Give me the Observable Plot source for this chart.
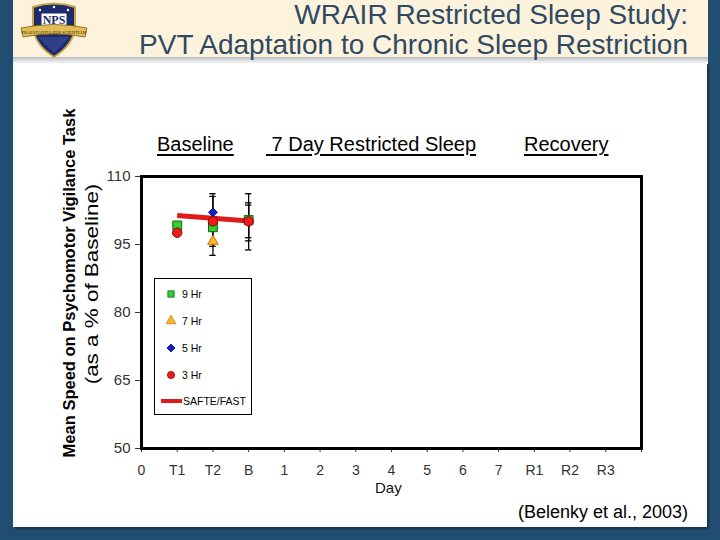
<!DOCTYPE html>
<html>
<head>
<meta charset="utf-8">
<script src="https://cdn.jsdelivr.net/npm/d3@7"></script>
<script src="https://cdn.jsdelivr.net/npm/@observablehq/plot@0.6"></script>
<style>
  html, body { margin: 0; padding: 0; }
  body { width: 720px; height: 540px; background: #224d73; position: relative; overflow: hidden; font-family: "Liberation Sans", Arial, sans-serif; }
  .abs { position: absolute; }
  #header { left: 13px; top: 0; width: 695px; height: 57px; background: #fdf3dd; }
  #shadow { left: 13px; top: 57px; width: 695px; height: 7px; background: linear-gradient(#b9bcbf, #ffffff); }
  #content { left: 13px; top: 64px; width: 694px; height: 463px; background: #ffffff; box-shadow: 2px 2px 2px rgba(0,0,0,0.35); }
  .title { right: 32px; color: #2f4a63; font-size: 28px; white-space: nowrap; line-height: 1; }
  .hdr { font-size: 20px; color: #000; text-decoration: underline; text-decoration-thickness: 2px; text-underline-offset: 3px; white-space: pre; line-height: 1; }
  .rot { transform: translate(-50%, -50%) rotate(-90deg); white-space: nowrap; color: #000; line-height: 1; }
  #legend { left: 154px; top: 278px; width: 96px; height: 135px; border: 1px solid #000; background: #fff; }
  #chart { left: 0; top: 0; }
</style>
</head>
<body>
<div id="header" class="abs"></div>
<div id="shadow" class="abs"></div>
<div id="content" class="abs"></div>

<svg class="abs" style="left:20px;top:1px" width="76" height="60" viewBox="0 0 76 60">
  <path d="M13,6 Q34,-1 55,6 L55,27 Q53,44 34,56 Q15,44 13,27 Z" fill="#1d2b6e" stroke="#c9a640" stroke-width="2"/>
  <path d="M18,36 L50,36 L34,52 Z" fill="#3a4fa0" opacity="0.6"/>
  <rect x="21" y="12" width="26" height="13" fill="#ffffff" stroke="#1d2b6e" stroke-width="1"/>
  <text x="34" y="23" text-anchor="middle" font-family="Liberation Serif, serif" font-size="12" font-weight="bold" fill="#1d2b6e">NPS</text>
  <circle cx="20" cy="9" r="1.2" fill="#fff"/><circle cx="48" cy="9" r="1.2" fill="#fff"/><circle cx="34" cy="6" r="1.2" fill="#fff"/>
  <path d="M1,27 Q34,20 67,27 L65,36 Q34,30 3,36 Z" fill="#e1bd58" stroke="#7a5a10" stroke-width="0.8"/>
  <text x="34" y="32.5" text-anchor="middle" font-family="Liberation Serif, serif" font-size="4.5" fill="#3a2a05">PRAESTANTIA PER SCIENTIAM</text>
</svg>

<div class="abs title" style="top:1px;">WRAIR Restricted Sleep Study:</div>
<div class="abs title" style="top:31px;">PVT Adaptation to Chronic Sleep Restriction</div>

<div id="chart" class="abs"></div>

<div class="abs hdr" style="left:157px;top:134px;">Baseline</div>
<div class="abs hdr" style="left:266px;top:134px;"> 7 Day Restricted Sleep</div>
<div class="abs hdr" style="left:524px;top:134px;">Recovery</div>

<div class="abs rot" style="left:69px;top:283px;font-size:16.5px;font-weight:bold;">Mean Speed on Psychomotor Vigilance Task</div>
<div class="abs rot" style="left:91px;top:284px;font-size:19px;transform:translate(-50%,-50%) rotate(-90deg) scaleX(1.18);">(as a % of Baseline)</div>

<div class="abs" style="left:375px;top:480px;font-size:15px;color:#111;line-height:1;">Day</div>
<div class="abs" style="right:32px;top:503px;font-size:18px;color:#000;line-height:1;white-space:nowrap;">(Belenky et al., 2003)</div>

<div id="legend" class="abs"></div>

<script>
// ---------- data ----------
const dayLabels = ["0", "T1", "T2", "B", "1", "2", "3", "4", "5", "6", "7", "R1", "R2", "R3"];
const obsDays = ["T1", "T2", "B"];
const seriesNames = ["9 Hr", "7 Hr", "5 Hr", "3 Hr"];
const hr9 = [99.2, 98.8, 100.4];
const hr7 = [null, 95.7, null];
const hr5 = [null, 102.1, null];
const hr3 = [97.6, 100.1, 100.1];
const safteFast = [101.4, 100.8, 100.2];
// error bars (group standard errors)
const errDay = ["T2", "T2", "T2", "B", "B", "B"];
const errHigh = [106.2, 105.6, 98.8, 106.2, 104.2, 103.7];
const errLow = [98.0, 94.6, 92.6, 93.8, 95.8, 96.5];
const yTicks = [50, 65, 80, 95, 110];

// ---------- styles ----------
const styles = {
  "9 Hr": {symbol: "square", d3sym: d3.symbolSquare, fill: "#35cf35", stroke: "#0a6a0a", r: 5.0},
  "7 Hr": {symbol: "triangle", d3sym: d3.symbolTriangle, fill: "#ffb62e", stroke: "#c97800", r: 3.9},
  "5 Hr": {symbol: "diamond2", d3sym: d3.symbolDiamond2, fill: "#1020d8", stroke: "#000070", r: 3.9},
  "3 Hr": {symbol: "circle", d3sym: d3.symbolCircle, fill: "#ec1c1c", stroke: "#8a0000", r: 4.7}
};

const values = {"9 Hr": hr9, "7 Hr": hr7, "5 Hr": hr5, "3 Hr": hr3};
const xi = d => dayLabels.indexOf(d);

const rows = [];
for (const s of seriesNames) {
  obsDays.forEach((d, i) => {
    const v = values[s][i];
    if (v != null) rows.push({series: s, day: d, x: xi(d), value: v});
  });
}
const errRows = errDay.map((d, i) => ({day: d, x: xi(d), lo: errLow[i], hi: errHigh[i]}));
const safteRows = obsDays.map((d, i) => ({day: d, x: xi(d), value: safteFast[i]}));
const capHalf = 0.09;

const marks = [
  Plot.ruleX(errRows, {x: "x", y1: "lo", y2: "hi", stroke: "#000", strokeWidth: 1.3}),
  Plot.ruleY(errRows, {y: "hi", x1: d => d.x - capHalf, x2: d => d.x + capHalf, stroke: "#000", strokeWidth: 1.3}),
  Plot.ruleY(errRows, {y: "lo", x1: d => d.x - capHalf, x2: d => d.x + capHalf, stroke: "#000", strokeWidth: 1.3}),
  Plot.line(safteRows, {x: "x", y: "value", stroke: "#e01b1b", strokeWidth: 5, strokeLinecap: "butt"})
];
for (const s of seriesNames) {
  const st = styles[s];
  marks.push(Plot.dot(rows.filter(r => r.series === s), {
    x: "x", y: "value", symbol: () => st.symbol, r: st.r,
    fill: st.fill, stroke: st.stroke, strokeWidth: 1
  }));
}
marks.push(
  Plot.axisY({ticks: yTicks, tickSize: 6, tickPadding: 5, fontSize: 15, label: null, fill: "#333", stroke: "#333"}),
  Plot.axisX({ticks: d3.range(dayLabels.length + 1), tickFormat: i => dayLabels[i] ?? "", tickSize: 4, tickPadding: 13, fontSize: 14, label: null, fill: "#333", stroke: "#333"}),
  Plot.frame({stroke: "#000", strokeWidth: 3})
);

const chart = Plot.plot({
  width: 720,
  height: 540,
  marginLeft: 141,
  marginRight: 79,
  marginTop: 176,
  marginBottom: 92,
  x: {type: "linear", domain: [0, dayLabels.length]},
  y: {domain: [50, 110]},
  symbol: {type: "identity"},
  style: {background: "transparent", fontFamily: "Liberation Sans, Arial, sans-serif", color: "#000", overflow: "visible"},
  marks
});
document.getElementById("chart").appendChild(chart);

// ---------- legend ----------
const lsvg = d3.select("#legend").append("svg").attr("width", 96).attr("height", 135)
  .style("position", "absolute").style("left", 0).style("top", 0);
const legY = [15, 42, 69, 96];
seriesNames.forEach((s, i) => {
  const st = styles[s];
  lsvg.append("path").attr("d", d3.symbol(st.d3sym, 40)()).attr("transform", `translate(16,${legY[i]})`)
    .attr("fill", st.fill).attr("stroke", st.stroke).attr("stroke-width", 0.8);
  lsvg.append("text").attr("x", 27).attr("y", legY[i]).attr("dy", "0.35em").attr("font-size", 10.5)
    .attr("font-family", "Liberation Sans, Arial, sans-serif").text(s);
});
lsvg.append("line").attr("x1", 6).attr("x2", 27).attr("y1", 122).attr("y2", 122).attr("stroke", "#e01b1b").attr("stroke-width", 4);
lsvg.append("text").attr("x", 28).attr("y", 122).attr("dy", "0.35em").attr("font-size", 10.5)
  .attr("font-family", "Liberation Sans, Arial, sans-serif").text("SAFTE/FAST");
</script>
</body>
</html>
